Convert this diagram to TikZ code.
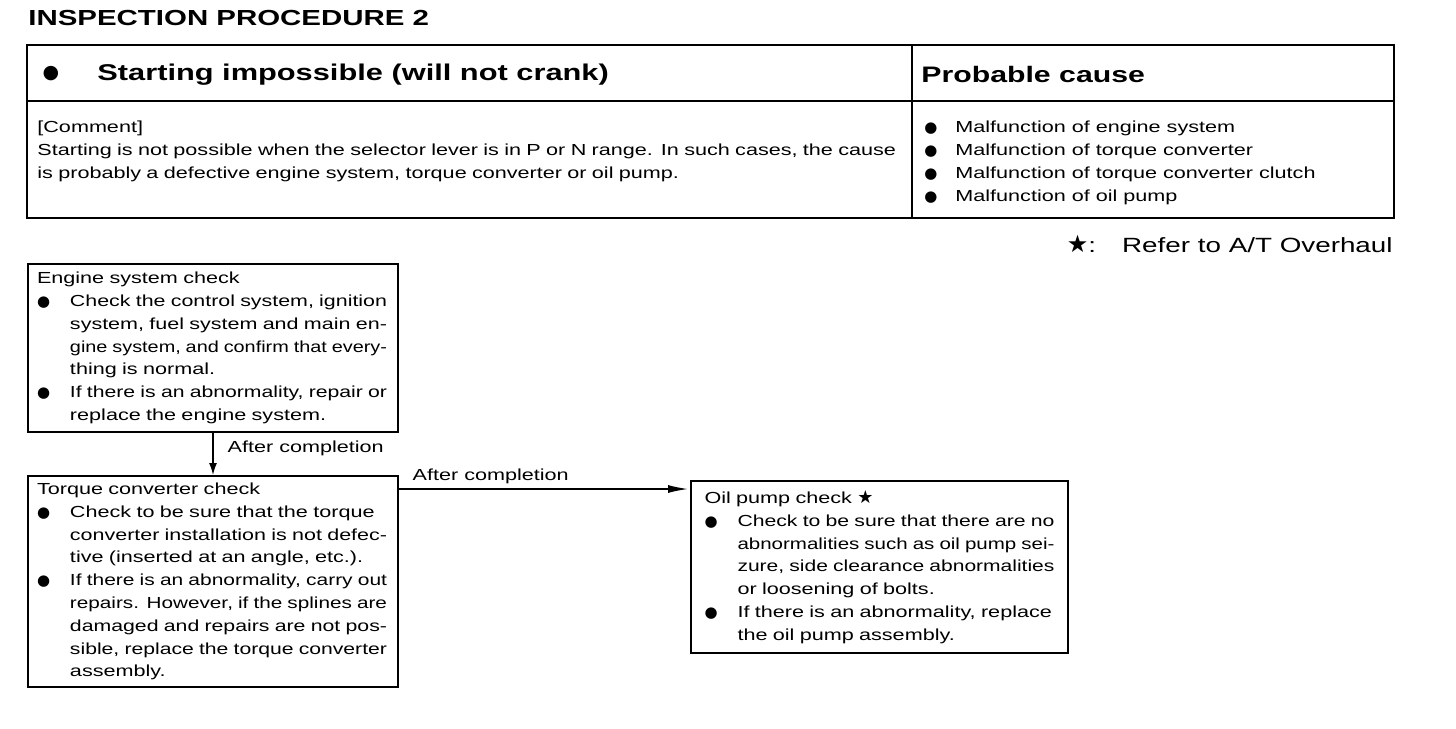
\documentclass[tikz,border=0pt]{standalone}
\usepackage{fontspec}
\usepackage{graphicx}
\setmainfont{Liberation Sans}[FakeStretch=1.35]
\newfontfamily\symfont{DejaVu Sans}
\usetikzlibrary{arrows.meta,positioning,calc}

\newlength\restw
\setlength\restw{158.5pt}
\newsavebox\linebox
% set one line to an exact width (stretch, or squeeze if too long)
\newcommand\fitto[2]{\sbox\linebox{#2}%
  \ifdim\wd\linebox>#1\relax\resizebox{#1}{\height}{\usebox\linebox}%
  \else\makebox[#1][s]{#2}\fi}
\newcommand\jl[1]{\fitto{\restw}{#1}}
\newcommand\dotb{\makebox[16.5pt][l]{{\symfont\fontsize{7.5}{7.5}\selectfont ●}}}
\newcommand\dotc{\makebox[15.5pt][l]{{\symfont\fontsize{7.5}{7.5}\selectfont ●}}}
\newcommand\ind{\hspace*{16.5pt}}
\newcommand\smallstar[1]{{\symfont\fontsize{#1}{#1}\selectfont ★}}

\begin{document}
\begin{tikzpicture}[x=0.5pt, y=-0.5pt,
    checkbox/.style={rectangle, draw, line width=1pt, anchor=north west, text width=176pt, align=left, inner xsep=4.5pt, inner ysep=3pt, font=\fontsize{8}{11.4}\selectfont},
    bodytext/.style={inner sep=0pt, align=left, font=\fontsize{8}{11.4}\selectfont},
    steplabel/.style={inner sep=2pt, font=\fontsize{8}{9.6}\selectfont},
    flow/.style={-{Latex[length=#1, width=4pt]}, line width=0.7pt},
    flow/.default=6pt
]
    \path[use as bounding box, fill=white] (0,0) rectangle (1456,728);

    % heading and table
    \node[anchor=west, inner sep=0pt, font=\bfseries\fontsize{10.9}{13}\selectfont] (title) at (28,18) {INSPECTION PROCEDURE 2};
    \draw[line width=1pt] (27,45) rectangle (1394,218);
    \draw[line width=1pt] (27,101) -- (1394,101);
    \draw[line width=1pt] (912,45) -- (912,218);
    \node[inner sep=0pt, font=\symfont\fontsize{9.5}{9.5}\selectfont] (hdot) at (51,74) {●};
    \node[anchor=west, inner sep=0pt, font=\bfseries\fontsize{11.4}{13}\selectfont] (symptom) at (97,75) {Starting impossible (will not crank)};
    \node[anchor=west, inner sep=0pt, font=\bfseries\fontsize{11.2}{13}\selectfont] (causehead) at (921,74) {Probable cause};
    \node[bodytext, anchor=north west, text width=432.5pt] (comment) at (37,121) {[Comment]\\
        \fitto{432.5pt}{Starting is not possible when the selector lever is in P or N range.  In such cases, the cause}\\
        is probably a defective engine system, torque converter or oil pump.};
    \node[bodytext, anchor=north west] (causes) at (924,121) {\dotc Malfunction of engine system\\
        \dotc Malfunction of torque converter\\
        \dotc Malfunction of torque converter clutch\\
        \dotc Malfunction of oil pump};
    \node[anchor=base east, inner sep=0pt, font=\fontsize{10.3}{12}\selectfont] (legend) at (1393,252) {\smallstar{12}:\hspace{13pt}Refer to A/T Overhaul};

    % check boxes
    \node[checkbox, minimum height=84pt] (engine) at (27,263) {Engine system check\\
        \dotb\jl{Check the control system, ignition}\\
        \ind\jl{system, fuel system and main en-}\\
        \ind\jl{gine system, and confirm that every-}\\
        \ind thing is normal.\\
        \dotb\jl{If there is an abnormality, repair or}\\
        \ind replace the engine system.};
    \node[checkbox, minimum height=105.5pt, below=21pt of engine] (torque) {Torque converter check\\
        \dotb\jl{Check to be sure that the torque}\\
        \ind\jl{converter installation is not defec-}\\
        \ind tive (inserted at an angle, etc.).\\
        \dotb\jl{If there is an abnormality, carry out}\\
        \ind\jl{repairs.  However, if the splines are}\\
        \ind\jl{damaged and repairs are not pos-}\\
        \ind\jl{sible, replace the torque converter}\\
        \ind assembly.};
    \node[checkbox, minimum height=86pt, text width=175pt, inner xsep=6.75pt, right=145.5pt of torque.north east, anchor=north west, yshift=-2.5pt] (oil) {Oil pump check \smallstar{9}\\
        \dotb\jl{Check to be sure that there are no}\\
        \ind\jl{abnormalities such as oil pump sei-}\\
        \ind\jl{zure, side clearance abnormalities}\\
        \ind or loosening of bolts.\\
        \dotb\jl{If there is an abnormality, replace}\\
        \ind the oil pump assembly.};

    % connectors
    \draw[flow] (engine) -- node[steplabel, right, pos=0.36, xshift=5pt] {After completion} (torque);
    \coordinate (hstart) at ($(torque.north east)+(0,14)$);
    \draw[flow=10pt, shorten >=1pt] (hstart) -- node[steplabel, above right, pos=0, xshift=4.5pt] {After completion} (hstart -| oil.west);
\end{tikzpicture}
\end{document}
